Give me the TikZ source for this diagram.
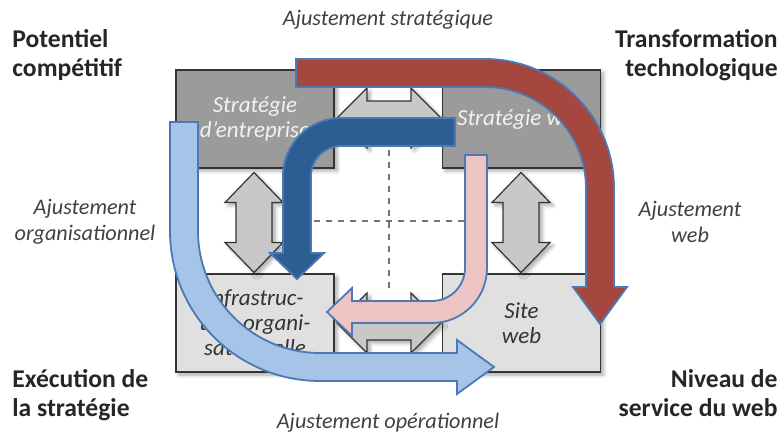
\documentclass[tikz,border=0pt]{standalone}
\usepackage{fontspec}
\setmainfont{Carlito}
\usetikzlibrary{positioning,shadows.blur}
\definecolor{boxdark}{HTML}{9B9B9B}
\definecolor{boxlight}{HTML}{E0E0E0}
\definecolor{arrowgray}{HTML}{C8C8C8}
\definecolor{edgeblue}{HTML}{4A79B3}
\definecolor{brick}{HTML}{A5463F}
\definecolor{navy}{HTML}{2C5E94}
\definecolor{sky}{HTML}{A6C4E8}
\definecolor{rose}{HTML}{EDC4C4}

\begin{document}
\begin{tikzpicture}[x=0.5pt, y=-0.5pt,
    shade box/.style={blur shadow={shadow blur steps=6, shadow xshift=1.5pt, shadow yshift=-1.5pt, shadow opacity=35}},
    box/.style={draw=black!80, line width=0.8pt, minimum width=79pt, minimum height=49pt,
      inner sep=1pt, align=center, shade box, font=\fontsize{11.5}{12.5}\selectfont\itshape},
    darkbox/.style={box, fill=boxdark, text=white!95!black},
    lightbox/.style={box, fill=boxlight, text=black!80},
    lbl/.style={inner sep=0pt, text=black!85, font=\fontsize{12.8}{14.5}\selectfont\bfseries},
    ajust/.style={inner sep=0pt, align=center, text=black!75, font=\fontsize{11.1}{12.8}\selectfont\itshape},
    dblarrow/.style={fill=arrowgray, draw=black!80, line width=0.6pt, line join=miter, shade box},
    bigarrow/.style={draw=edgeblue, line width=0.9pt}]
  \useasboundingbox (0,0) rectangle (782,437);

  % les quatre domaines
  \node[darkbox] (strat) at (255,119) {Stratégie\\d’entreprise};
  \node[darkbox] (stratweb) at (521.5,119) {Stratégie web};
  \node[lightbox] (infra) at (255,323) {Infrastruc-\\ture organi-\\sationnelle};
  \node[lightbox] (site) at (521.5,323) {Site\\web};

  % doubles fleches entre les domaines
  \foreach \cx in {254,521}
    \draw[dblarrow, shift={(\cx,222.5)}] (0,-50) -- (29,-20) -- (18,-20) -- (18,20) -- (29,20)
      -- (0,50) -- (-29,20) -- (-18,20) -- (-18,-20) -- (-29,-20) -- cycle;
  \foreach \cy in {118,323}
    \draw[dblarrow, shift={(389,\cy)}] (-52,0) -- (-22,-30) -- (-22,-17) -- (22,-17) -- (22,-30)
      -- (52,0) -- (22,30) -- (22,17) -- (-22,17) -- (-22,30) -- cycle;

  \draw[black!55, dashed, line width=0.8pt] (389,150) -- (389,292);
  \draw[black!55, dashed, line width=0.8pt] (290,221) -- (480,221);

  % les quatre perspectives
  \draw[bigarrow, fill=navy] (455,118) -- (341,118) arc (270:180:58) -- (283,253) -- (270,253)
    -- (297,279) -- (324,253) -- (311,253) -- (311,176) arc (180:270:30) -- (455,146) -- cycle;
  \draw[bigarrow, fill=rose] (465,155) -- (487,155) -- (487,268) arc (0:90:55) -- (352,323)
    -- (352,336) -- (327,312) -- (352,288) -- (352,301) -- (432,301) arc (90:0:33) -- cycle;
  \draw[bigarrow, fill=brick] (296,59) -- (485,59) arc (270:360:129) -- (614,287) -- (627,287)
    -- (600,324) -- (573,287) -- (586,287) -- (586,188) arc (0:-90:101) -- (296,87) -- cycle;
  \draw[bigarrow, fill=sky] (170,122) -- (198,122) -- (198,231) arc (180:90:122) -- (457,353)
    -- (457,340) -- (494,367) -- (457,394) -- (457,381) -- (320,381) arc (90:180:150) -- cycle;

  % libelles
  \node[lbl, align=left, anchor=north west] (potentiel) at (12,29) {Potentiel\\compétitif};
  \node[lbl, align=right, anchor=north east] (transfo) at (778,29) {Transformation\\technologique};
  \node[lbl, align=left, anchor=north west] (execution) at (12,369) {Exécution de\\la stratégie};
  \node[lbl, align=right, anchor=north east] (niveau) at (778,369) {Niveau de\\service du web};
  \node[ajust] (ajstrat) at (388,20) {Ajustement stratégique};
  \node[ajust] (ajorg) at (85,222) {Ajustement\\organisationnel};
  \node[ajust] (ajweb) at (690,222) {Ajustement\\web};
  \node[ajust] (ajop) at (388,423) {Ajustement opérationnel};
\end{tikzpicture}
\end{document}
